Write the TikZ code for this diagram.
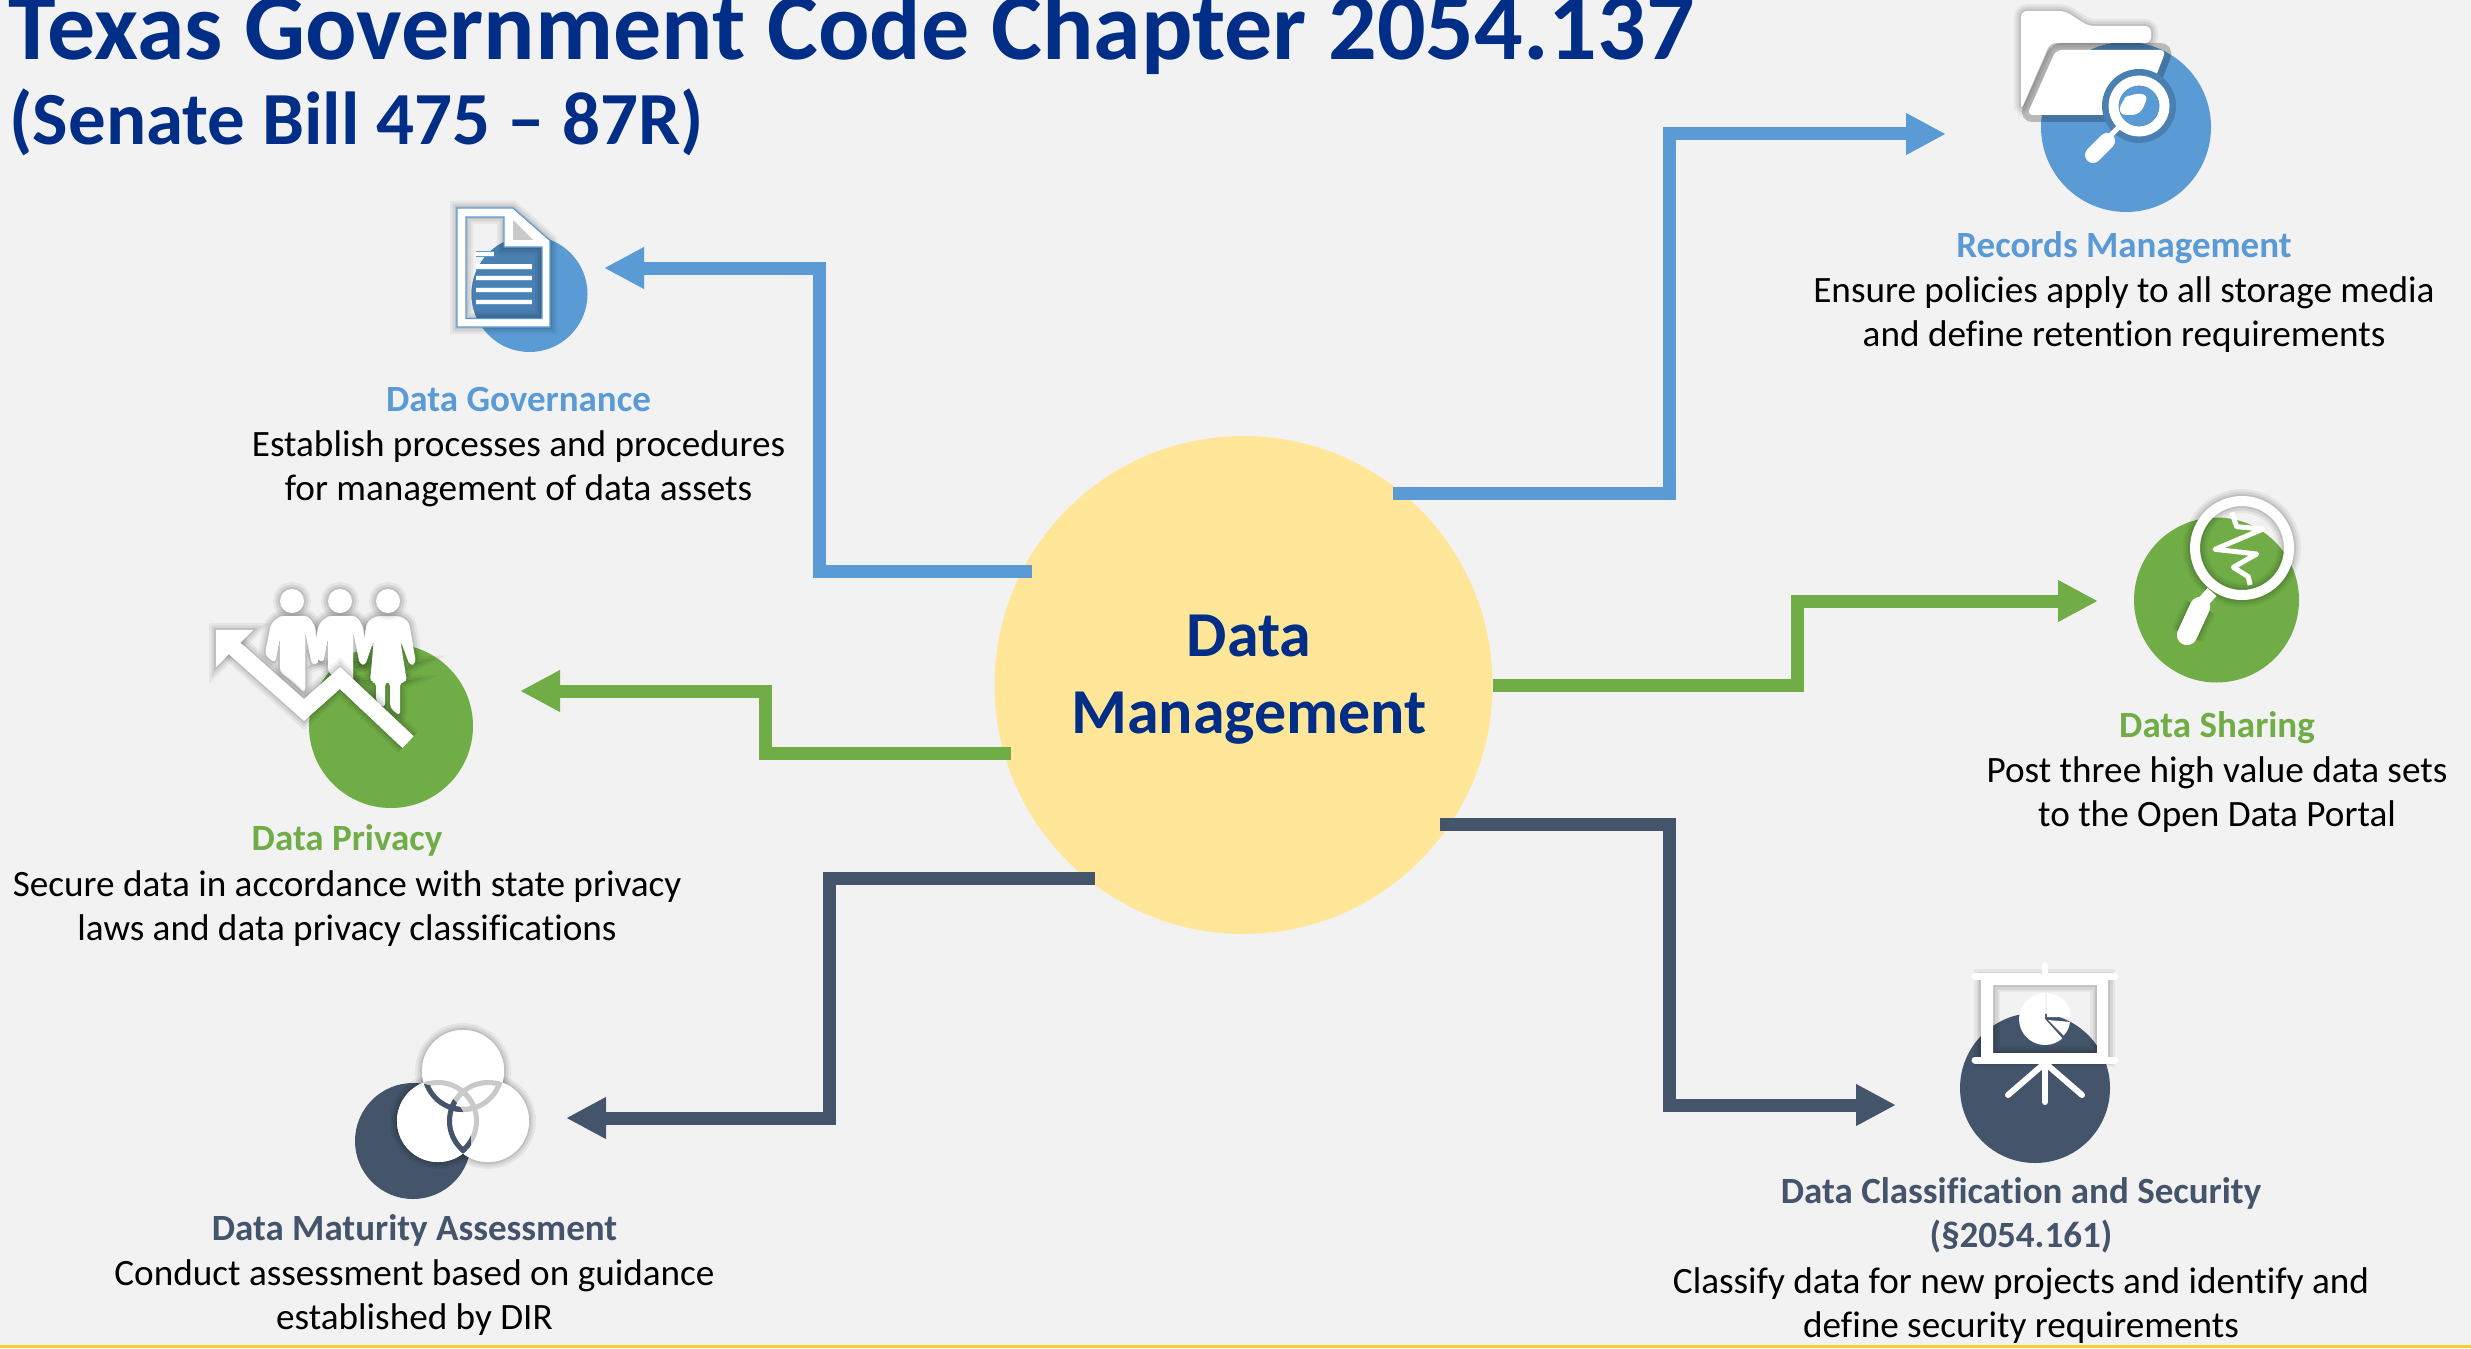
\documentclass[tikz,border=0pt]{standalone}
\usepackage{fontspec}
\setmainfont[Ligatures=CommonOff]{Carlito}
\usetikzlibrary{arrows.meta,positioning}

\definecolor{pagegray}{HTML}{F2F2F2}
\definecolor{titlenavy}{HTML}{002D85}
\definecolor{hubyellow}{HTML}{FFE699}
\definecolor{govblue}{HTML}{5B9BD5}
\definecolor{govshade}{HTML}{4A7FB2}
\definecolor{privgreen}{HTML}{70AD47}
\definecolor{slatedark}{HTML}{44546A}
\definecolor{footgold}{HTML}{F2CF2E}
\definecolor{ringgray}{HTML}{C9C9C9}

\tikzset{
  softshadow/.style={
    preaction={draw=black,draw opacity=.05,line width=#1*1pt+7pt},
    preaction={draw=black,draw opacity=.07,line width=#1*1pt+4.5pt},
    preaction={draw=black,draw opacity=.09,line width=#1*1pt+2pt}},
  softshadow/.default=0,
  disc/.style={circle,inner sep=0pt,fill=#1},
  arrowline/.style={line width=6.5pt,-{Triangle[length=20pt,width=19.5pt]}},
  headtext/.style={font=\fontsize{18.5}{22}\selectfont\bfseries,text=#1,inner sep=0pt,anchor=base,text depth=4pt},
  bodytext/.style={font=\fontsize{18.6}{22}\selectfont,text=black,align=center,inner sep=0pt},
  whiteline/.style={draw=white,line cap=round,line width=#1*1pt}
}

\newcommand{\vennrings}[1]{
  \foreach \ax/\ay/\bx/\by/\cx/\cy in {463/1071/438/1121/488/1121,438/1121/463/1071/488/1121,488/1121/463/1071/438/1121} {
    \begin{scope}
      \clip (\bx,\by) circle (41);
      \draw[#1,line width=2.5pt] (\ax,\ay) circle (38.5);
    \end{scope}
    \begin{scope}
      \clip (\cx,\cy) circle (41);
      \draw[#1,line width=2.5pt] (\ax,\ay) circle (38.5);
    \end{scope}
  }
}

\begin{document}
\begin{tikzpicture}[x=.5pt,y=-.5pt]
  \useasboundingbox (0,0) rectangle (2471,1348);
  \fill[pagegray] (0,0) rectangle (2471,1348);
  \coordinate (footl) at (0,1346);
  \coordinate (footr) at (2471,1346);
  \draw[footgold,line width=1.5pt] (footl) -- (footr);

  \node[anchor=base west,inner sep=0pt,text=titlenavy,font=\fontsize{48}{52}\selectfont\bfseries] (maintitle) at (8,60) {Texas Government Code Chapter 2054.137};
  \node[anchor=base west,inner sep=0pt,text=titlenavy,font=\fontsize{37.5}{42}\selectfont\bfseries] (subtitle) at (9,145) {(Senate Bill 475 – 87R)};

  \node[disc=hubyellow,minimum size=249pt] (hub) at (1243.5,685) {};
  \node[align=center,text=titlenavy,inner sep=0pt,font=\fontsize{32}{38.5}\selectfont\bfseries] (hubtext) at (1249,680) {Data\\Management};

  \node[disc=govblue,minimum size=58pt] (govdisc) at (529.5,294) {};
  \node[disc=govblue,minimum size=85pt] (recdisc) at (2126,127) {};
  \node[disc=privgreen,minimum size=82pt] (privdisc) at (391,726) {};
  \node[disc=privgreen,minimum size=82.5pt] (sharedisc) at (2216.5,600) {};
  \node[disc=slatedark,minimum size=58pt] (matdisc) at (413,1141) {};
  \node[disc=slatedark,minimum size=75pt] (classdisc) at (2035,1088) {};

  \coordinate (govbend) at (819,268);
  \coordinate (govtip) at (604,268);
  \coordinate (recbend) at (1669,134);
  \coordinate (rectip) at (1946,134);
  \coordinate (privbend) at (765,691);
  \coordinate (privtip) at (520,691);
  \coordinate (sharebend) at (1797,601);
  \coordinate (sharetip) at (2098,601);
  \coordinate (matbend) at (829,1118);
  \coordinate (mattip) at (566,1118);
  \coordinate (classbend) at (1669,1105);
  \coordinate (classtip) at (1896,1105);

  \draw[arrowline,govblue,shorten <=-5.5pt] (hub.153.4) -| (govbend) -- (govtip);
  \draw[arrowline,govblue,shorten <=-5.5pt] (hub.50) -| (recbend) -- (rectip);
  \draw[arrowline,privgreen,shorten <=-3.5pt] (hub.196.7) -| (privbend) -- (privtip);
  \draw[arrowline,privgreen] (hub.east) -| (sharebend) -- (sharetip);
  \draw[arrowline,slatedark,shorten <=-4pt] (hub.231.5) -| (matbend) -- (mattip);
  \draw[arrowline,slatedark,shorten <=-5pt] (hub.-34.5) -| (classbend) -- (classtip);

  \begin{scope}
    \clip (466,217) -- (504,217) -- (504,247) -- (542,247) -- (542,318.5) -- (466,318.5) -- cycle;
    \fill[govshade] (529.5,294) circle (58);
  \end{scope}
  \fill[white,even odd rule,draw=govblue,line width=.6pt,softshadow]
    (457,208) -- (513,208) -- (550,240.5) -- (550,327) -- (457,327) -- cycle
    (466,217) -- (504,217) -- (504,247) -- (542,247) -- (542,318.5) -- (466,318.5) -- cycle;
  \fill[ringgray] (513,220) -- (533,240) -- (513,240) -- cycle;
  \foreach \ly in {266.5,278,290,302}
    \draw[white,line width=2.2pt,preaction={draw=govblue,line width=3pt}] (476,\ly) -- (532,\ly);
  \draw[white,line width=2.2pt,preaction={draw=govblue,line width=3pt}] (476,254) -- (494,254);

  \foreach \px in {292,340} {
    \begin{scope}[shift={(\px,0)}]
      \fill[white,rounded corners=2,softshadow] (-12,616) -- (-21,624) -- (-27,654.6) -- (-17,663) -- (-12,637) -- (-12,672) -- (-2,679) -- (13,693) -- (13,630) -- (20,665) -- (27,663) -- (23,626) -- (16,616) -- cycle;
      \fill[white,softshadow] (0,601) circle (12);
    \end{scope}
  }
  \begin{scope}[shift={(388,0)}]
    \fill[white,rounded corners=2,softshadow] (-12,616) -- (-21,622) -- (-28,663) -- (-23,666) -- (-14,639) -- (-18,682) -- (-12,682) -- (-12,702) -- (-3,708) -- (-3,682) -- (2,682) -- (2,708) -- (12,716) -- (12,682) -- (19,682) -- (12,639) -- (22,666) -- (28,663) -- (21,622) -- (12,616) -- cycle;
    \fill[white,softshadow] (0,601) circle (12);
  \end{scope}
  \foreach \px in {292,340} {
    \begin{scope}[shift={(\px,0)}]
      \fill[white,rounded corners=2] (-12,616) -- (-21,624) -- (-27,654.6) -- (-17,663) -- (-12,637) -- (-12,672) -- (-2,679) -- (13,693) -- (13,630) -- (20,665) -- (27,663) -- (23,626) -- (16,616) -- cycle;
    \end{scope}
  }
  \draw[white,line width=8pt,softshadow=8] (232,646) -- (304,710) -- (340,678) -- (408,742);
  \fill[white,softshadow] (216,630) -- (253,630) -- (216,667) -- cycle;
  \draw[white,line width=8pt] (225,640) -- (304,710) -- (340,678) -- (408,742);

  \fill[white,rounded corners=3,softshadow] (2021,11) -- (2065,11) -- (2088,26) -- (2151,26) -- (2151,43) -- (2050,43) -- (2021,110) -- cycle;
  \fill[white,rounded corners=3,preaction={draw=black,draw opacity=.24,line width=7pt}] (2056,50) -- (2166,50) -- (2141,115) -- (2027,115) -- cycle;
  \fill[govshade] (2139,106) circle (37);
  \fill[govblue] (2139,106) circle (20);
  \begin{scope}
    \clip (2139,106) circle (20);
    \fill[white,rounded corners=4] (2118,115) -- (2122,100) -- (2130,94) -- (2149,94) -- (2140,115) -- cycle;
  \end{scope}
  \draw[white,line width=5pt] (2139,106) circle (25.5);
  \draw[white,line width=2.5pt] (2121,125) -- (2107,139);
  \draw[whiteline=8] (2107,141) -- (2093,155);

  \draw[white,line width=5pt,softshadow=5] (2242,548) circle (47);
  \draw[white,line width=2.5pt,line join=round] (2231.7,512.3) -- (2236.7,526.7) -- (2263,529) -- (2215,549.3) -- (2256.7,554) -- (2233.3,567.3) -- (2248.3,576.7) -- (2250,585);
  \draw[white,line width=6pt] (2212,592) -- (2203,602);
  \draw[whiteline=10,softshadow=10] (2200,607) -- (2187,635);
  \draw[whiteline=10] (2200,607) -- (2187,635);

  \fill[white,even odd rule,softshadow] (1981,976) rectangle (2108,1060) (1993,985) rectangle (2097,1053);
  \draw[whiteline=3.5] (1975,976) -- (2115,976);
  \draw[whiteline=3.5] (1975,1060) -- (2115,1060);
  \draw[whiteline=3] (2045,965) -- (2045,976);
  \draw[whiteline=3] (2045,1063) -- (2045,1102);
  \draw[whiteline=3] (2045,1063) -- (2008,1095);
  \draw[whiteline=3] (2045,1063) -- (2082,1095);
  \fill[white,shift={(2045,1019)}] (0,0) -- (-90:26) arc[start angle=-90,end angle=-312,radius=26] -- cycle;
  \fill[white,shift={(2047,1017)}] (0,0) -- (0:24) arc[start angle=0,end angle=-90,radius=24] -- cycle;
  \fill[white,shift={(2048,1020)}] (0,0) -- (5:22) arc[start angle=5,end angle=45,radius=22] -- cycle;

  \fill[white,softshadow] (463,1071) circle (41);
  \fill[white,softshadow] (438,1121) circle (41);
  \fill[white,softshadow] (488,1121) circle (41);
  \fill[white] (463,1071) circle (41) (438,1121) circle (41) (488,1121) circle (41);
  \vennrings{ringgray}
  \begin{scope}
    \clip (413,1141) circle (58);
    \vennrings{slatedark}
  \end{scope}

  \node[headtext=govblue] (govhead) at (518.5,411) {Data Governance};
  \node[bodytext,below=5.5pt of govhead] (govbody) {Establish processes and procedures\\for management of data assets};
  \node[headtext=govblue] (rechead) at (2124,257) {Records Management};
  \node[bodytext,below=5.5pt of rechead] (recbody) {Ensure policies apply to all storage media\\and define retention requirements};
  \node[headtext=privgreen] (privhead) at (347,850) {Data Privacy};
  \node[bodytext,below=5.9pt of privhead] (privbody) {Secure data in accordance with state privacy\\laws and data privacy classifications};
  \node[headtext=privgreen] (sharehead) at (2217,737) {Data Sharing};
  \node[bodytext,below=5.5pt of sharehead] (sharebody) {Post three high value data sets\\to the Open Data Portal};
  \node[headtext=slatedark] (mathead) at (414.5,1240) {Data Maturity Assessment};
  \node[bodytext,below=5.5pt of mathead] (matbody) {Conduct assessment based on guidance\\established by DIR};
  \node[headtext=slatedark,align=center] (classhead) at (2021,1247) {Data Classification and Security\\(§2054.161)};
  \node[bodytext,below=5.9pt of classhead] (classbody) {Classify data for new projects and identify and\\define security requirements};
\end{tikzpicture}
\end{document}
